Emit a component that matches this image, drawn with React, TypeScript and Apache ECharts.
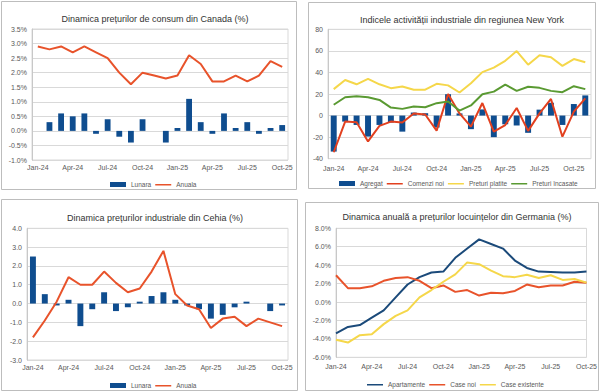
import React, { useEffect, useRef } from "react";
import * as echarts from "echarts";

const months22 = [
  "Jan-24", "Feb-24", "Mar-24", "Apr-24", "May-24", "Jun-24", "Jul-24", "Aug-24", "Sep-24", "Oct-24", "Nov-24", "Dec-24",
  "Jan-25", "Feb-25", "Mar-25", "Apr-25", "May-25", "Jun-25", "Jul-25", "Aug-25", "Sep-25", "Oct-25",
];
const months23 = [...months22, "Nov-25"];

// Canada CPI
const canadaLunara = [0.0, 0.3, 0.6, 0.5, 0.6, -0.1, 0.4, -0.2, -0.4, 0.4, 0.0, -0.4, 0.1, 1.1, 0.3, -0.1, 0.6, 0.1, 0.3, -0.1, 0.1, 0.2];
const canadaAnuala = [2.9, 2.8, 2.9, 2.7, 2.9, 2.7, 2.5, 2.0, 1.6, 2.0, 1.9, 1.8, 1.9, 2.6, 2.3, 1.7, 1.7, 1.9, 1.7, 1.9, 2.4, 2.2];

// New York Empire State
const nyAgregat = [-33.4, -5.6, -8.7, -19.5, -8.7, -6.5, -14.9, 2.8, 2.2, -11.1, 19.8, 2.0, -12.6, 5.7, -20.0, -8.1, -9.2, -16.0, 5.5, 11.9, -8.7, 10.7, 18.7];
const nyComenzi = [-34.0, -5.6, -6.2, -24.0, -9.6, -5.6, -6.5, 2.0, 1.0, -14.0, 20.0, 2.0, -10.2, 11.6, -14.9, -8.8, 7.0, -14.2, 2.0, 15.4, -19.6, 3.7, 15.9];
const nyPlatite = [24.5, 33.0, 29.0, 34.0, 29.0, 25.4, 27.0, 24.0, 24.0, 29.4, 28.0, 21.4, 30.0, 40.3, 44.4, 50.8, 59.8, 47.2, 56.0, 54.1, 46.1, 52.4, 49.4];
const nyIncasate = [10.0, 17.0, 18.0, 17.0, 14.5, 7.4, 6.2, 8.4, 7.7, 11.5, 13.0, 4.6, 9.4, 19.8, 22.2, 28.7, 22.9, 26.7, 25.7, 22.9, 21.7, 27.2, 24.5];

// Czech PPI
const czLunara = [2.5, 0.5, -0.1, 0.2, -1.2, -0.3, 0.6, -0.4, -0.2, 0.1, 0.4, 0.6, 0.2, -0.1, -0.3, -0.8, -0.6, -0.2, 0.1, 0.0, -0.4, -0.1];
const czAnuala = [-1.8, -0.9, 0.1, 1.4, 1.0, 1.0, 1.7, 1.1, 0.6, 0.8, 1.7, 2.8, 0.5, -0.1, -0.3, -1.3, -0.8, -0.7, -1.2, -0.8, -1.0, -1.2];

// Germany house prices
const deApartamente = [-3.4, -2.7, -2.5, -1.7, -0.9, 0.5, 1.9, 2.7, 3.2, 3.3, 4.8, 5.8, 6.8, 6.3, 5.8, 4.5, 3.7, 3.3, 3.25, 3.2, 3.2, 3.3];
const deCaseNoi = [2.9, 1.5, 1.5, 1.7, 2.3, 2.6, 2.7, 2.3, 1.5, 1.8, 1.1, 1.3, 0.7, 1.0, 0.95, 1.2, 1.9, 1.6, 1.8, 1.8, 2.2, 2.1];
const deCaseExistente = [-4.1, -4.4, -3.6, -3.5, -2.4, -1.5, -0.9, 0.5, 1.3, 2.2, 3.0, 4.3, 4.1, 3.4, 2.8, 2.7, 2.95, 2.6, 2.9, 2.4, 2.5, 2.1];

const FONT = "'Liberation Sans', Arial, sans-serif";
const BLUE = "#0f4d8f";
const ORANGE = "#e8532b";
const RED = "#e2401f";
const YELLOW = "#f5d74a";
const GREEN = "#5a9a32";
const GRID_LINE = "#d9d9d9";
const LABEL = "#595959";
const LINE_ICON = "path://M0,0h16v0.01h-16z M0,1.9h16v1.5h-16z M0,4.99h16v0.01h-16z";

function xAxisFor(gridIndex: number, data: string[], boundaryGap: boolean, margin: number) {
  return {
    type: "category",
    gridIndex,
    data,
    boundaryGap,
    axisTick: { show: false },
    axisLine: { show: false },
    axisLabel: { interval: 2, fontSize: 7, color: LABEL, margin, fontFamily: FONT },
    splitLine: { show: false },
  };
}

function yAxisFor(gridIndex: number, min: number, max: number, interval: number, fmt: (v: number) => string) {
  return {
    type: "value",
    gridIndex,
    min,
    max,
    interval,
    axisLine: { show: true, lineStyle: { color: "#c8c8c8" } },
    axisTick: { show: false },
    axisLabel: { fontSize: 7, color: LABEL, margin: 5, formatter: fmt, fontFamily: FONT },
    splitLine: { show: true, lineStyle: { color: GRID_LINE, width: 1 } },
  };
}

function titleFor(text: string, x: number, y: number) {
  return {
    text,
    left: x,
    top: y,
    textAlign: "center",
    textStyle: { fontSize: 9, fontWeight: "normal", color: "#333333", fontFamily: FONT },
  };
}

function legendFor(items: any[], left: number, top: number) {
  return {
    data: items,
    left,
    top,
    itemWidth: 16,
    itemHeight: 5,
    itemGap: 4,
    padding: 0,
    textStyle: { fontSize: 6.5, color: LABEL, fontFamily: FONT },
  };
}

export default function App() {
  const ref = useRef<HTMLDivElement>(null);

  useEffect(() => {
    if (!ref.current) return;
    const chart = echarts.init(ref.current, undefined, { renderer: "svg" });
    const borderStyle = { fill: "none", stroke: "#bdbdbd", lineWidth: 1 };
    const option: any = {
      animation: false,
      textStyle: { fontFamily: FONT },
      graphic: [
        { type: "rect", shape: { x: 1.5, y: 1.5, width: 295, height: 188 }, style: borderStyle, silent: true },
        { type: "rect", shape: { x: 308.5, y: 2.5, width: 287, height: 186 }, style: borderStyle, silent: true },
        { type: "rect", shape: { x: 1.5, y: 199.5, width: 296, height: 191 }, style: borderStyle, silent: true },
        { type: "rect", shape: { x: 305.5, y: 202.5, width: 293, height: 188 }, style: borderStyle, silent: true },
      ],
      title: [
        titleFor("Dinamica prețurilor de consum din Canada (%)", 150, 9),
        titleFor("Indicele activității industriale din regiunea New York", 457, 10),
        titleFor("Dinamica prețurilor industriale din Cehia (%)", 150, 208),
        titleFor("Dinamica anuală a prețurilor locuințelor din Germania (%)", 452, 207),
      ],
      legend: [
        legendFor([{ name: "Lunara", icon: "rect" }, { name: "Anuala", icon: LINE_ICON }], 110, 181),
        legendFor([
          { name: "Agregat", icon: "rect" },
          { name: "Comenzi noi", icon: LINE_ICON },
          { name: "Preturi platite", icon: LINE_ICON },
          { name: "Preturi încasate", icon: LINE_ICON },
        ], 339, 180),
        legendFor([{ name: "Lunara", icon: "rect" }, { name: "Anuala", icon: LINE_ICON }], 110, 382),
        legendFor([
          { name: "Apartamente", icon: LINE_ICON },
          { name: "Case noi", icon: LINE_ICON },
          { name: "Case existente", icon: LINE_ICON },
        ], 367, 381),
      ],
      grid: [
        { left: 32, top: 29, width: 256, height: 131, show: true, borderColor: GRID_LINE, borderWidth: 1, backgroundColor: "transparent" },
        { left: 328, top: 29.3, width: 263, height: 129.4, show: true, borderColor: GRID_LINE, borderWidth: 1, backgroundColor: "transparent" },
        { left: 27, top: 228.3, width: 261, height: 131.7, show: true, borderColor: GRID_LINE, borderWidth: 1, backgroundColor: "transparent" },
        { left: 336, top: 228.3, width: 255, height: 129, show: true, borderColor: GRID_LINE, borderWidth: 1, backgroundColor: "transparent" },
      ],
      xAxis: [
        xAxisFor(0, months22, true, 4),
        xAxisFor(1, months23, true, 6),
        xAxisFor(2, months22, true, 4),
        xAxisFor(3, months22, false, 6),
      ],
      yAxis: [
        yAxisFor(0, -1, 3.5, 0.5, (v) => v.toFixed(1) + "%"),
        yAxisFor(1, -40, 80, 20, (v) => String(v)),
        yAxisFor(2, -3, 4, 1, (v) => v.toFixed(1)),
        yAxisFor(3, -6, 8, 2, (v) => v.toFixed(1) + "%"),
      ],
      series: [
        { name: "Lunara", type: "bar", xAxisIndex: 0, yAxisIndex: 0, data: canadaLunara, barWidth: "50%", itemStyle: { color: BLUE } },
        { name: "Anuala", type: "line", xAxisIndex: 0, yAxisIndex: 0, data: canadaAnuala, symbol: "none", lineStyle: { color: ORANGE, width: 2 }, itemStyle: { color: ORANGE } },

        { name: "Agregat", type: "bar", xAxisIndex: 1, yAxisIndex: 1, data: nyAgregat, barWidth: "52%", itemStyle: { color: BLUE } },
        { name: "Comenzi noi", type: "line", xAxisIndex: 1, yAxisIndex: 1, data: nyComenzi, symbol: "none", lineStyle: { color: RED, width: 2 }, itemStyle: { color: RED } },
        { name: "Preturi platite", type: "line", xAxisIndex: 1, yAxisIndex: 1, data: nyPlatite, symbol: "none", lineStyle: { color: YELLOW, width: 2 }, itemStyle: { color: YELLOW } },
        { name: "Preturi încasate", type: "line", xAxisIndex: 1, yAxisIndex: 1, data: nyIncasate, symbol: "none", lineStyle: { color: GREEN, width: 2 }, itemStyle: { color: GREEN } },

        { name: "Lunara", type: "bar", xAxisIndex: 2, yAxisIndex: 2, data: czLunara, barWidth: "50%", itemStyle: { color: BLUE } },
        { name: "Anuala", type: "line", xAxisIndex: 2, yAxisIndex: 2, data: czAnuala, symbol: "none", lineStyle: { color: ORANGE, width: 2 }, itemStyle: { color: ORANGE } },

        { name: "Apartamente", type: "line", xAxisIndex: 3, yAxisIndex: 3, data: deApartamente, symbol: "none", lineStyle: { color: "#1b4a7a", width: 2 }, itemStyle: { color: "#1b4a7a" } },
        { name: "Case noi", type: "line", xAxisIndex: 3, yAxisIndex: 3, data: deCaseNoi, symbol: "none", lineStyle: { color: ORANGE, width: 2 }, itemStyle: { color: ORANGE } },
        { name: "Case existente", type: "line", xAxisIndex: 3, yAxisIndex: 3, data: deCaseExistente, symbol: "none", lineStyle: { color: YELLOW, width: 2 }, itemStyle: { color: YELLOW } },
      ],
    };
    chart.setOption(option);
    return () => chart.dispose();
  }, []);

  return (
    <div
      ref={ref}
      style={{ position: "absolute", left: 0, top: 0, width: 600, height: 391, background: "#ffffff" }}
    />
  );
}
